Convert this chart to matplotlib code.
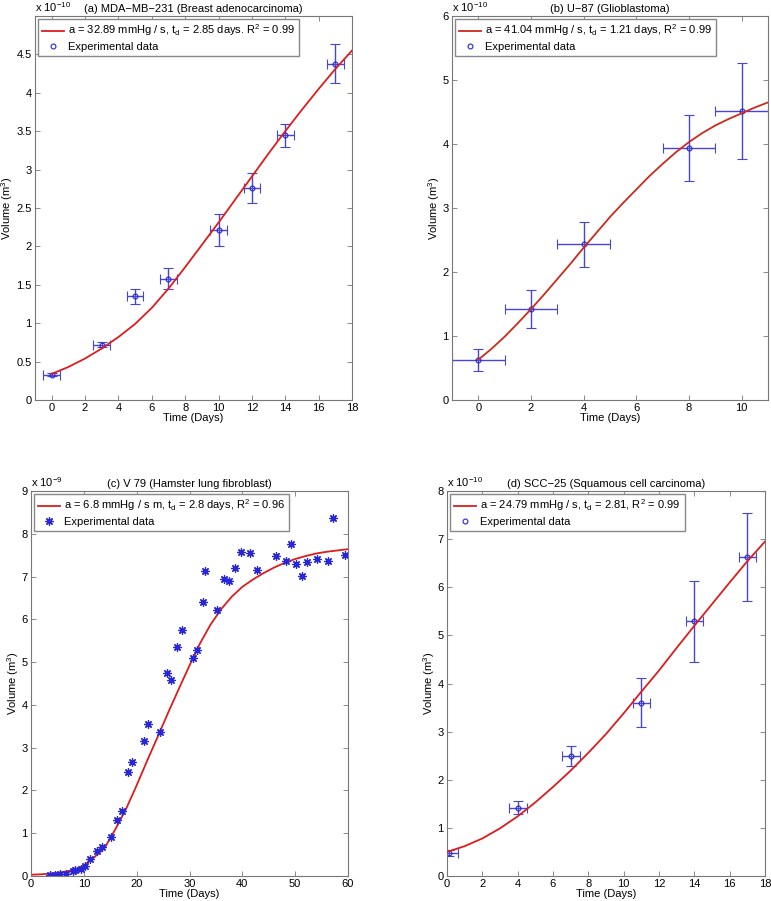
import matplotlib
matplotlib.use('Agg')
import matplotlib.pyplot as plt
from matplotlib.lines import Line2D
from matplotlib.ticker import FuncFormatter

# volumes are in units of the exponent shown above each panel
a_days = [0, 3, 5, 7, 10, 12, 14, 17]
a_vol = [0.33, 0.72, 1.35, 1.58, 2.21, 2.76, 3.45, 4.38]
a_vol_err = [0.02, 0.03, 0.10, 0.14, 0.21, 0.19, 0.15, 0.25]
a_day_err = [0.5, 0.5, 0.5, 0.5, 0.5, 0.5, 0.5, 0.5]
a_fit_days = list(range(0, 19))
a_fit_vol = [0.34, 0.43, 0.54, 0.67, 0.82, 0.99, 1.20, 1.45, 1.73, 2.02,
             2.31, 2.61, 2.91, 3.21, 3.50, 3.78, 4.05, 4.31, 4.55]

b_days = [0, 2, 4, 8, 10]
b_vol = [0.63, 1.42, 2.43, 3.94, 4.51]
b_vol_err = [0.17, 0.30, 0.35, 0.52, 0.75]
b_day_err = [1, 1, 1, 1, 1]
b_fit_days = [v / 2 for v in range(0, 23)]
b_fit_vol = [0.63, 0.80, 0.99, 1.20, 1.42, 1.65, 1.89, 2.13, 2.38, 2.62, 2.86, 3.08,
             3.29, 3.50, 3.69, 3.87, 4.03, 4.17, 4.29, 4.39, 4.48, 4.57, 4.65]

c_days = [3.6, 4.5, 5.4, 6.6, 7.9, 8.4, 9.4, 10.3, 11.2, 12.4, 13.4, 15.2, 16.3, 17.2,
          18.3, 19.2, 21.3, 22.1, 24.5, 25.7, 26.5, 27.6, 28.5, 30.6, 31.4, 32.5, 33.0,
          35.2, 36.5, 37.4, 38.6, 39.8, 41.5, 42.7, 46.4, 48.2, 49.3, 50.2, 51.2, 52.2,
          54.1, 56.3, 57.2, 59.4]
c_vol = [0.03, 0.03, 0.05, 0.05, 0.12, 0.15, 0.16, 0.24, 0.39, 0.58, 0.68, 0.91, 1.30, 1.52,
         2.42, 2.66, 3.15, 3.56, 3.37, 4.75, 4.58, 5.35, 5.76, 5.09, 5.29, 6.41, 7.14,
         6.21, 6.95, 6.89, 7.19, 7.58, 7.54, 7.16, 7.49, 7.36, 7.77, 7.30, 7.01, 7.34,
         7.40, 7.36, 8.37, 7.51]
c_fit_days = list(range(0, 61, 2))
c_fit_vol = [0.03, 0.04, 0.06, 0.09, 0.14, 0.24, 0.44, 0.67, 1.10, 1.57, 2.12, 2.70, 3.26,
             3.83, 4.38, 4.92, 5.44, 5.88, 6.24, 6.53, 6.76, 6.93, 7.08, 7.21, 7.32, 7.41,
             7.48, 7.54, 7.58, 7.61, 7.64]

d_days = [0.1, 4, 7, 11, 14, 17]
d_vol = [0.48, 1.42, 2.49, 3.60, 5.29, 6.62]
d_vol_err = [0.06, 0.135, 0.21, 0.505, 0.85, 0.915]
d_day_err = [0.5, 0.5, 0.5, 0.5, 0.5, 0.5]
d_fit_days = list(range(0, 19))
d_fit_vol = [0.50, 0.62, 0.78, 0.99, 1.24, 1.53, 1.85, 2.19, 2.56, 2.95,
             3.38, 3.83, 4.27, 4.74, 5.20, 5.65, 6.10, 6.54, 6.95]

TITLES = [
    '(a) MDA\u2212MB\u2212231 (Breast adenocarcinoma)',
    '(b) U\u221287 (Glioblastoma)',
    '(c) V 79 (Hamster lung fibroblast)',
    '(d) SCC\u221225 (Squamous cell carcinoma)',
]
FIT_LABELS = [
    r'a = 32.89 mmHg / s, t$_\mathrm{d}$ = 2.85 days. R$^2$ = 0.99',
    r'a = 41.04 mmHg / s, t$_\mathrm{d}$ = 1.21 days, R$^2$ = 0.99',
    r'a = 6.8 mmHg / s m, t$_\mathrm{d}$ = 2.8 days, R$^2$ = 0.96',
    r'a = 24.79 mmHg / s, t$_\mathrm{d}$ = 2.81, R$^2$ = 0.99',
]
EXPONENTS = [r'x 10$^{-10}$', r'x 10$^{-10}$', r'x 10$^{-9}$', r'x 10$^{-10}$']

RED = '#dd1c1c'
BLUE = '#2727d8'
ASTERISK = (8, 2, 0)

plt.rcParams.update({
    'font.family': ['Liberation Sans', 'DejaVu Sans'],
    'font.size': 8,
    'mathtext.fontset': 'custom',
    'mathtext.rm': 'Liberation Sans',
    'mathtext.it': 'Liberation Sans:italic',
    'xtick.direction': 'in',
    'ytick.direction': 'in',
    'xtick.top': True,
    'ytick.right': True,
    'xtick.major.size': 3.5,
    'ytick.major.size': 3.5,
    'xtick.major.width': 0.6,
    'ytick.major.width': 0.6,
})

fig = plt.figure(figsize=(7.71, 9.01), dpi=100)
W, H = 771.0, 901.0
boxes = [(35, 16, 317, 384), (452, 16, 316, 384), (31, 491, 317, 385), (447, 491, 318, 385)]
axes = [fig.add_axes([l / W, 1 - (t + h) / H, w / W, h / H]) for l, t, w, h in boxes]

fmt = FuncFormatter(lambda v, p: '%g' % v)


def finish(ax, k, xlim, xticks, ylim, yticks, handles):
    ax.set_xlim(*xlim)
    ax.set_ylim(*ylim)
    ax.set_xticks(xticks)
    ax.set_yticks(yticks)
    ax.xaxis.set_major_formatter(fmt)
    ax.yaxis.set_major_formatter(fmt)
    ax.set_title(TITLES[k], fontsize=8, pad=3)
    ax.set_xlabel('Time (Days)', labelpad=0)
    ax.set_ylabel(r'Volume (m$^3$)', labelpad=0.5)
    ax.text(0, 1.004, EXPONENTS[k], transform=ax.transAxes, ha='left', va='bottom', fontsize=8)
    for s in ax.spines.values():
        s.set_color('#777777')
        s.set_linewidth(0.8)
    ax.tick_params(colors='#777777', labelcolor='black', pad=2.5)
    ax.legend(handles=handles, loc='upper left', fancybox=False, edgecolor='#888888',
              framealpha=1, borderaxespad=0.25, handlelength=2.0, handletextpad=0.4,
              borderpad=0.35, labelspacing=0.35, fontsize=8)


panels = [
    (a_fit_days, a_fit_vol, a_days, a_vol, a_day_err, a_vol_err),
    (b_fit_days, b_fit_vol, b_days, b_vol, b_day_err, b_vol_err),
    None,
    (d_fit_days, d_fit_vol, d_days, d_vol, d_day_err, d_vol_err),
]

legend_handles = []
for k, ax in enumerate(axes):
    if k == 2:
        fit, = ax.plot(c_fit_days, c_fit_vol, color=RED, lw=1.3, label=FIT_LABELS[k])
        pts, = ax.plot(c_days, c_vol, linestyle='none', marker=ASTERISK, markersize=6,
                       color=BLUE, mec=BLUE, markeredgewidth=0.9, label='Experimental data')
        legend_handles.append([fit, pts])
        continue
    fx, fy, x, y, xe, ye = panels[k]
    fit, = ax.plot(fx, fy, color='#cc2a1a' if k == 1 else RED, lw=1.3,
                   label=FIT_LABELS[k], zorder=3)
    ax.errorbar(x, y, xerr=xe, yerr=ye, fmt='o', markersize=3.5, mfc='none',
                mec=BLUE, ecolor='#4646d6', elinewidth=1.0, capsize=3.5, capthick=1.0,
                markeredgewidth=0.8, zorder=2)
    pts = Line2D([], [], linestyle='none', marker='o', markersize=3.5, mfc='none',
                 mec=BLUE, markeredgewidth=0.8, label='Experimental data')
    legend_handles.append([fit, pts])

finish(axes[0], 0, (-1, 18), range(0, 19, 2), (0, 5), [v / 2 for v in range(0, 10)],
       legend_handles[0])
finish(axes[1], 1, (-1, 11), range(0, 11, 2), (0, 6), range(0, 7), legend_handles[1])
finish(axes[2], 2, (0, 60), range(0, 61, 10), (0, 9), range(0, 10), legend_handles[2])
finish(axes[3], 3, (0, 18), range(0, 19, 2), (0, 8), range(0, 9), legend_handles[3])

fig.savefig('out.png', dpi=100)
